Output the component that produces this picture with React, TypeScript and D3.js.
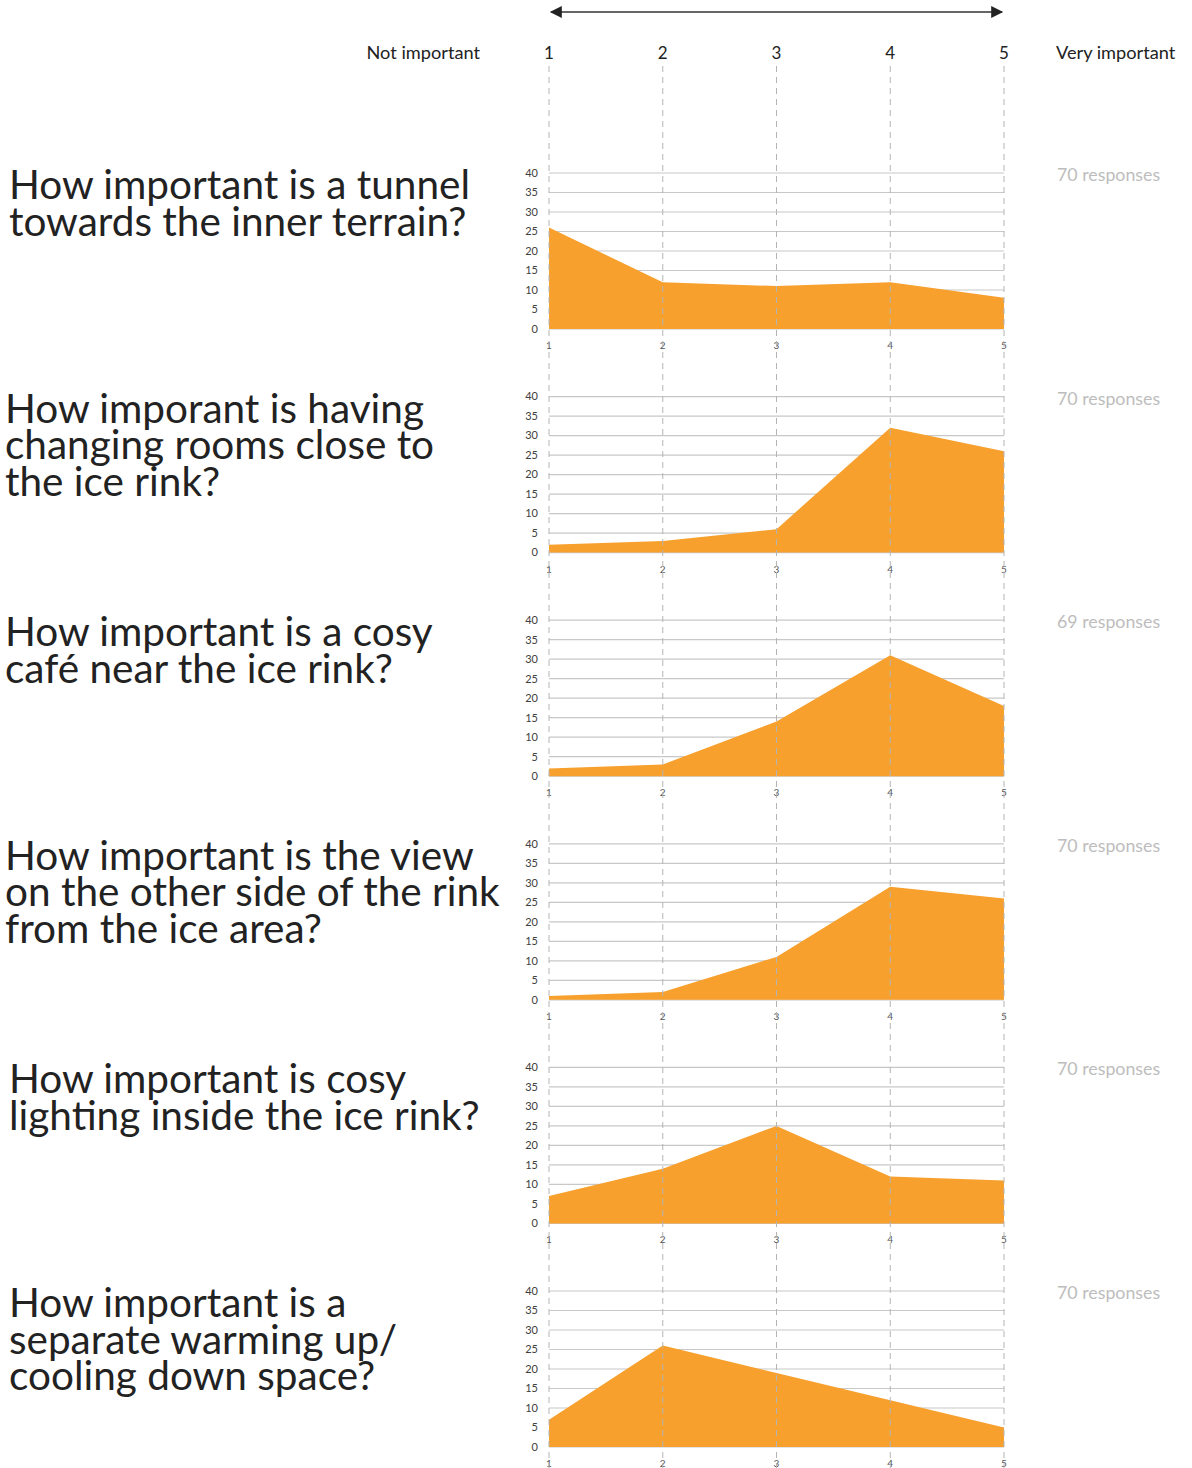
import { scaleLinear, area } from 'd3';

// answer scale 1..5
const scalePoints = [1, 2, 3, 4, 5];
const yTicks = [0, 5, 10, 15, 20, 25, 30, 35, 40];

const questions = [
  ['How important is a tunnel', 'towards the inner terrain?'],
  ['How imporant is having', 'changing rooms close to', 'the ice rink?'],
  ['How important is a cosy', 'café near the ice rink?'],
  ['How important is the view', 'on the other side of the rink', 'from the ice area?'],
  ['How important is cosy', 'lighting inside the ice rink?'],
  ['How important is a', 'separate warming up/', 'cooling down space?'],
];
const responses = [70, 70, 69, 70, 70, 70];

const tunnel = [26, 12, 11, 12, 8];
const changingRooms = [2, 3, 6, 32, 26];
const cafe = [2, 3, 14, 31, 18];
const view = [1, 2, 11, 29, 26];
const lighting = [7, 14, 25, 12, 11];
const warmingUp = [7, 26, 19, 12, 5];

const series = [tunnel, changingRooms, cafe, view, lighting, warmingUp];

const FONT = 'Lato, "Noto Sans", sans-serif';

export default function App() {
  const width = 1192;
  const height = 1468;

  const x = scaleLinear().domain([1, 5]).range([549, 1004]);
  const plotH = 156;
  const firstTop = 173;
  const step = 223.6;
  const titleX = [9, 5, 5, 5, 9, 9];

  return (
    <svg
      width={width}
      height={height}
      style={{ position: 'absolute', left: 0, top: 0, background: '#fff' }}
      fontFamily={FONT}
    >
      <defs>
        <marker id="ah" viewBox="0 0 10 10" refX="9" refY="5" markerWidth="16" markerHeight="12" orient="auto-start-reverse" markerUnits="userSpaceOnUse">
          <path d="M0,0 L10,5 L0,10 z" fill="#222" />
        </marker>
      </defs>

      {/* header */}
      <line x1={x(1) + 2} x2={x(5) - 2} y1={12} y2={12} stroke="#333" strokeWidth={1.5} markerStart="url(#ah)" markerEnd="url(#ah)" />
      <text x={480} y={59} textAnchor="end" fontSize={18.2} fill="#222">Not important</text>
      <text x={1056} y={59} fontSize={18.2} fill="#222">Very important</text>
      {scalePoints.map((p) => (
        <text key={p} x={x(p)} y={59} textAnchor="middle" fontSize={17} fill="#222">{p}</text>
      ))}

      {series.map((vals, i) => {
        const top = firstTop + i * step;
        const y = scaleLinear().domain([0, 40]).range([top + plotH, top]);
        const a = area<number>()
          .x((_, j) => x(scalePoints[j]))
          .y0(y(0))
          .y1((d) => y(d));
        const lines = questions[i];
        return (
          <g key={i}>
            {yTicks.map((t) => (
              <g key={t}>
                <line x1={x(1)} x2={x(5)} y1={y(t)} y2={y(t)} stroke="#c8c8c8" strokeWidth={1.2} />
                <text x={538} y={y(t)} dy="0.35em" textAnchor="end" fontSize={11} fill="#404040">{t}</text>
              </g>
            ))}
            <path d={a(vals) ?? ''} fill="#F7A02D" />
            {scalePoints.map((p) => (
              <text key={p} x={x(p)} y={y(0) + 20} textAnchor="middle" fontSize={10} fill="#555">{p}</text>
            ))}
            {lines.map((l, k) => (
              <text key={k} x={titleX[i]} y={top + 26 + k * 36.5} fontSize={40.5} fill="#222">{l}</text>
            ))}
            <text x={1057} y={top + 8} fontSize={17.8} fill="#bdbdbd">{responses[i]} responses</text>
          </g>
        );
      })}

      {/* dashed guides through every chart */}
      {scalePoints.map((p) => (
        <line key={p} x1={x(p)} x2={x(p)} y1={66} y2={height} stroke="#b4b4b4" strokeWidth={1} strokeDasharray="6 5" />
      ))}
    </svg>
  );
}
